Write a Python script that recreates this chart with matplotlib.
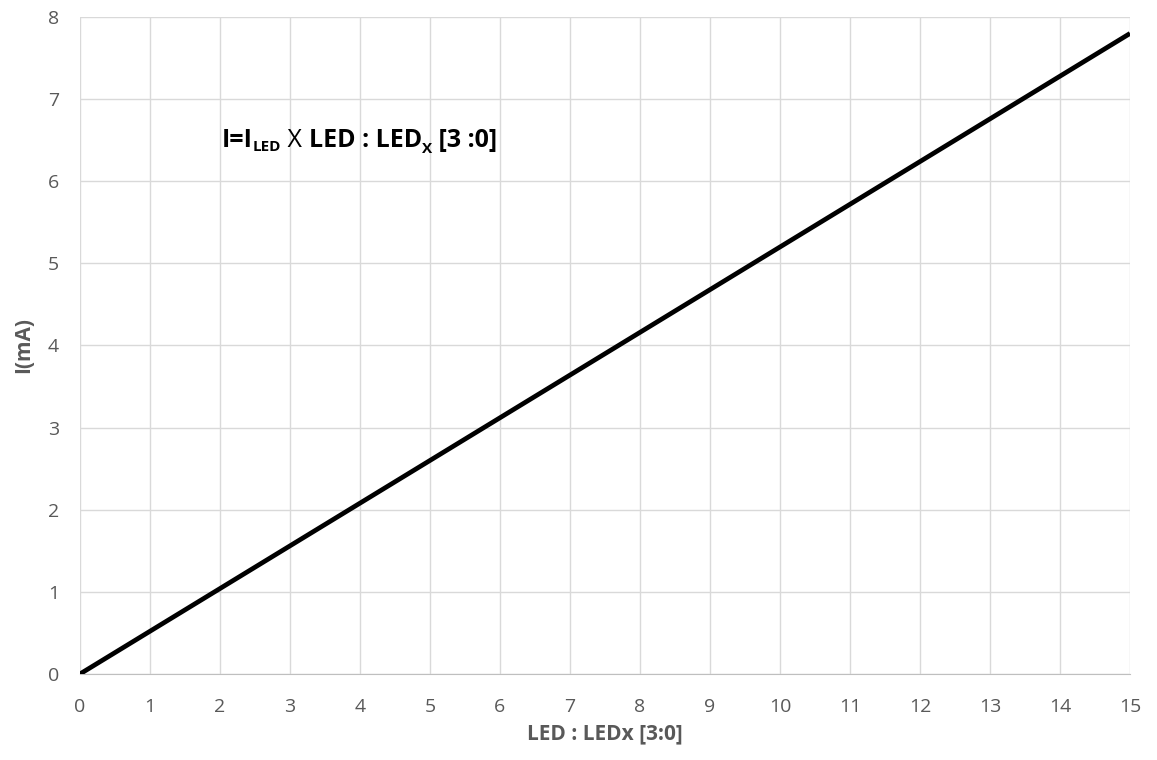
import matplotlib.pyplot as plt

# LED code vs current
led_code = [0, 1, 2, 3, 4, 5, 6, 7, 8, 9, 10, 11, 12, 13, 14, 15]
current_ma = [0, 0.52, 1.04, 1.56, 2.08, 2.6, 3.12, 3.64, 4.16, 4.68,
              5.2, 5.72, 6.24, 6.76, 7.28, 7.8]

x_ticks = list(range(0, 16))
y_ticks = list(range(0, 9))

# formula label: (text, weight, size, baseline drop in px)
formula = [('I=I', 'bold', 18, 0), ('LED', 'bold', 11, 4), (' X ', 'normal', 18, 0),
           ('LED : LED', 'bold', 18, 0), ('X', 'bold', 11, 6), (' [3 :0]', 'bold', 18, 0)]

plt.rcParams['font.family'] = ['Open Sans', 'DejaVu Sans']

fig = plt.figure(figsize=(11.57, 7.6), dpi=100)
ax = fig.add_axes([0.0691, 0.1132, 0.9076, 0.8644])

ax.plot(led_code, current_ma, color='black', lw=3.4, solid_capstyle='butt', zorder=3)

ax.set_xlim(0, 15)
ax.set_ylim(0, 8)
ax.set_xticks(x_ticks)
ax.set_yticks(y_ticks)
ax.grid(True, color='#d9d9d9', lw=1)
for s in ['top', 'right', 'left']:
    ax.spines[s].set_visible(False)
ax.spines['bottom'].set_color('#bfbfbf')
ax.tick_params(length=0, labelsize=14, colors='#595959')
ax.tick_params(axis='x', pad=17)
ax.tick_params(axis='y', pad=15)

ax.set_xlabel('LED : LEDx [3:0]', fontsize=15, fontweight='bold', color='#595959', labelpad=6)
ax.set_ylabel('I(mA)', fontsize=15, fontweight='bold', color='#595959', labelpad=10)

# chain the formula pieces left to right
renderer = fig.canvas.get_renderer()
x0, y0 = ax.transData.transform((2.03, 6.42))
W, H = fig.get_size_inches() * fig.dpi
x = x0
for txt, wt, sz, drop in formula:
    t = fig.text(x / W, (y0 - drop) / H, txt, fontsize=sz, fontweight=wt,
                 color='black', va='baseline', ha='left')
    x = t.get_window_extent(renderer).x1

fig.savefig('out.png', dpi=100)
